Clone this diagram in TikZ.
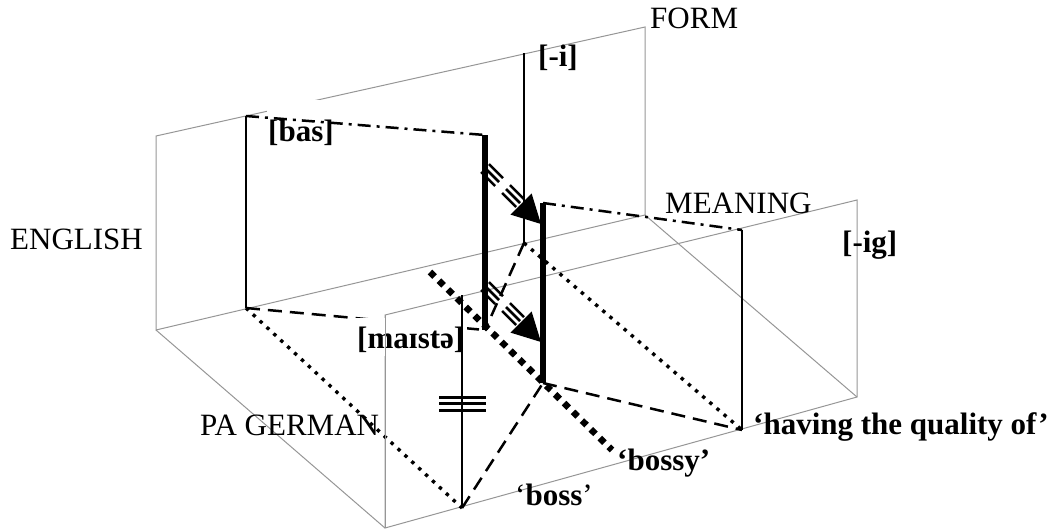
\documentclass[tikz,border=0pt]{standalone}
\usepackage{fontspec}
\setmainfont{Liberation Serif}
\definecolor{planegray}{RGB}{150,150,150}
\begin{document}
\begin{tikzpicture}[x=1pt,y=-1pt,
  plane/.style={draw=planegray, line width=1pt},
  thinv/.style={line width=2.2pt},
  barv/.style={line width=5.5pt},
  dashdotl/.style={line width=2.5pt, dash pattern=on 13pt off 6pt on 3pt off 6pt},
  dashl/.style={line width=2.5pt, dash pattern=on 14pt off 8pt},
  dotl/.style={line width=3.4pt, dash pattern=on 3.4pt off 6pt},
  diamondl/.style={line width=6.5pt, dash pattern=on 6.5pt off 6pt},
  lab/.style={font=\fontsize{31}{36}\selectfont, inner sep=0pt, anchor=base west},
  blab/.style={font=\fontsize{31}{36}\selectfont\bfseries, inner sep=0pt, anchor=base west},
  tribar/.pic={\draw[line width=2.5pt] (-10.9,-3.1) -- (3.1,10.9) (-7,-7) -- (7,7) (-3.1,-10.9) -- (10.9,3.1);},
  headtri/.pic={\fill (0,0) -- (-9.4,-30.6) -- (-30.6,-9.4) -- cycle;}
]
\useasboundingbox (0,0) rectangle (1057,531);
% plane corners
\coordinate (BTL) at (156,136);
\coordinate (BTR) at (645,27);
\coordinate (BBR) at (645,215);
\coordinate (BBL) at (156,330);
\coordinate (FTL) at (385,315);
\coordinate (FTR) at (857,200);
\coordinate (FBR) at (857,397);
\coordinate (FBL) at (385,528);
% line ends
\coordinate (basT) at (246,116);
\coordinate (basB) at (246,308);
\coordinate (iT) at (524,53);
\coordinate (iB) at (524,243);
\coordinate (b1T) at (485,135);
\coordinate (b1B) at (485,330);
\coordinate (b2T) at (543,203);
\coordinate (b2B) at (543,383);
\coordinate (igT) at (742,230);
\coordinate (igB) at (742,430);
\coordinate (maT) at (462,295);
\coordinate (maB) at (462,508);
\coordinate (dS) at (430,272);
\coordinate (dE) at (612,450);
\coordinate (t1) at (541,224);
\coordinate (t2) at (541,342);
\coordinate (g1a) at (492,175);
\coordinate (g1b) at (513,196);
\coordinate (g2a) at (492,293);
\coordinate (g2b) at (513,314);

% planes
\draw[plane] (BTL) -- (BTR) -- (BBR) -- (BBL) -- cycle;
\draw[plane] (FTL) -- (FTR) -- (FBR) -- (FBL) -- cycle;
\draw[plane] (BBL) -- (FBL);
\draw[plane] (BBR) -- (FBR);

% [bas] label with white box
\node[blab, fill=white, text height=41pt, text depth=6pt, inner xsep=1pt] (bas) at (267,141) {[bas]};

% dashed and dotted connections
\draw[dashl] (basB) -- (b1B);
\draw[dashl] (iB) -- (b1B);
\draw[dashl] (maB) -- (b2B);
\draw[dashl] (b2B) -- (igB);
\draw[dotl] (basB) -- (maB);
\draw[dotl] (iB) -- (igB);

% [maiste] label
\node[blab, fill=white, text height=30pt, text depth=8pt, inner xsep=3pt] (mai) at (354,348) {[maɪstə]};
\draw[plane] (FTL) -- (FBL);

% dash-dot connections
\draw[dashdotl] (basT) -- (b1T);
\draw[dashdotl] (b2T) -- (igT);

% verticals
\draw[thinv] (basT) -- (basB);
\draw[thinv] (iT) -- (iB);
\draw[thinv] (igT) -- (igB);
\draw[thinv] (maT) -- (maB);
\draw[barv] (b1T) -- (b1B);
\draw[barv] (b2T) -- (b2B);

% thick diamond line
\draw[diamondl] (dS) -- (dE);

% arrows
\pic at (g1a) {tribar};
\pic at (g1b) {tribar};
\pic at (t1) {headtri};
\pic at (g2a) {tribar};
\pic at (g2b) {tribar};
\pic at (t2) {headtri};

% identity sign on PA German line
\draw[line width=3pt] (439,397) -- (486,397) (439,403.5) -- (486,403.5) (439,410) -- (486,410);

% labels
\node[lab] (form) at (650,28) {FORM};
\node[lab] (meaning) at (665,213) {MEANING};
\node[lab] (english) at (10,249) {ENGLISH};
\node[lab] (pag) at (200,435) {PA GERMAN};
\node[blab] (mi) at (538,66) {[-i]};
\node[blab] (mig) at (842,252) {[-ig]};
\node[blab] (hq) at (753,434) {‘having the quality of’};
\node[blab] (bossy) at (617,470) {‘bossy’};
\node[lab] (boss) at (515,505) {‘\textbf{boss}’};
\end{tikzpicture}
\end{document}
